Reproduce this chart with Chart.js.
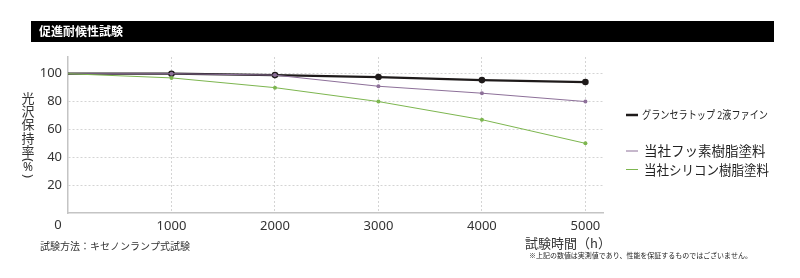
<!DOCTYPE html>
<html>
<head>
<meta charset="utf-8">
<script src="https://cdn.jsdelivr.net/npm/chart.js@4"></script>
<style>
html,body{margin:0;padding:0;background:#fff;}
#wrap{position:relative;width:800px;height:278px;}
</style>
</head>
<body>
<div id="wrap"><canvas id="c" width="800" height="278"></canvas></div>
<script>
const chartTitle = '促進耐候性試験';
const hours = [0, 1000, 2000, 3000, 4000, 5000];
const xTickValues = [1000, 2000, 3000, 4000, 5000];
const yTickValues = [20, 40, 60, 80, 100];
const seriesNames = ['グランセラトップ 2液ファイン', '当社フッ素樹脂塗料', '当社シリコン樹脂塗料'];
const granCera = [100, 100, 99, 97.6, 95.4, 94];
const fluoro = [100, 100, 99, 91, 86, 80];
const silicone = [100, 97, 90, 80, 67, 50];
const yTitle = ['光', '沢', '保', '持', '率', '(', '%', ')'];
const xTitle = '試験時間（h）';
const methodNote = '試験方法：キセノンランプ式試験';
const disclaimer = '※上記の数値は実測値であり、性能を保証するものではございません。';

const colors = ['#1e1a1a', '#8d7099', '#7db64f'];
const FONT = "'Noto Sans', 'Noto Sans CJK JP', sans-serif";
const JFONT = "'Noto Sans CJK JP', 'Noto Sans', sans-serif";

function toPts(arr){ return hours.map((h,i)=>({x:h, y:arr[i]})); }

const extras = {
  id: 'extras',
  beforeDraw(chart){
    const ctx = chart.ctx;
    ctx.save();
    ctx.fillStyle = '#fff';
    ctx.fillRect(0,0,chart.width,chart.height);
    ctx.restore();
  },
  afterDraw(chart){
    const ctx = chart.ctx;
    const xs = chart.scales.x;
    ctx.save();
    // title bar
    ctx.fillStyle = '#000';
    ctx.fillRect(31, 21, 743, 21);
    ctx.fillStyle = '#fff';
    ctx.font = 'bold 12px ' + JFONT;
    ctx.textBaseline = 'middle';
    ctx.textAlign = 'left';
    ctx.fillText(chartTitle, 39, 31.5);

    // origin label
    ctx.fillStyle = '#333';
    ctx.font = '13px ' + FONT;
    ctx.textAlign = 'center';
    ctx.fillText('0', xs.getPixelForValue(0) - 10, 225);

    // y title vertical (parentheses turned for vertical writing)
    ctx.font = '13px ' + JFONT;
    ctx.fillStyle = '#333';
    const ypos = [98, 111, 124.5, 138, 151, 160, 167.5, 176];
    yTitle.forEach((ch,i)=>{
      if (ch === '(' || ch === ')') {
        ctx.save();
        ctx.translate(28, ypos[i]);
        ctx.rotate(Math.PI/2);
        ctx.font = '13px ' + FONT;
        ctx.fillText(ch, 0, 0);
        ctx.restore();
      } else {
        ctx.font = (ch === '%' ? '12px ' + FONT : '13px ' + JFONT);
        ctx.fillText(ch, 28, ypos[i]);
      }
    });

    // x title
    ctx.font = '13px ' + JFONT;
    ctx.textAlign = 'left';
    ctx.fillText(xTitle, 525, 243);

    // method note
    ctx.font = '10px ' + JFONT;
    ctx.fillStyle = '#333';
    ctx.fillText(methodNote, 40, 246, 150);

    // disclaimer
    ctx.font = '7px ' + JFONT;
    ctx.fillStyle = '#222';
    ctx.fillText(disclaimer, 529, 255, 223);

    // legend
    const leg = [
      {y:115, w:2.5, font:'11px ' + JFONT, max:126, tx:642},
      {y:151, w:1, font:'13.5px ' + JFONT, max:123, tx:644},
      {y:169.5, w:1, font:'13.5px ' + JFONT, max:125, tx:644}
    ];
    leg.forEach((l,i)=>{
      ctx.strokeStyle = colors[i];
      ctx.lineWidth = l.w;
      ctx.beginPath(); ctx.moveTo(626, l.y); ctx.lineTo(638, l.y); ctx.stroke();
      ctx.fillStyle = '#222';
      ctx.font = l.font;
      ctx.fillText(seriesNames[i], l.tx, l.y, l.max);
    });
    ctx.restore();
  }
};

new Chart(document.getElementById('c'), {
  type: 'line',
  data: {
    datasets: [
      {label: seriesNames[2], data: toPts(silicone), borderColor: colors[2], backgroundColor: colors[2], borderWidth: 1, pointRadius: [0,2,2,2,2,2], pointBorderWidth: 0, tension: 0},
      {label: seriesNames[1], data: toPts(fluoro), borderColor: colors[1], backgroundColor: colors[1], borderWidth: 1, pointRadius: [0,2,2,2,2,2], pointBorderWidth: 0, tension: 0},
      {label: seriesNames[0], data: toPts(granCera), borderColor: colors[0], backgroundColor: colors[0], borderWidth: 2.2, pointRadius: [0,3.3,3.3,3.3,3.3,3.3], pointBorderWidth: 0, tension: 0}
    ]
  },
  options: {
    responsive: false,
    animation: false,
    layout: {padding: {left: 0, top: 57, right: 197, bottom: 0}},
    plugins: {legend: {display: false}, tooltip: {enabled: false}},
    scales: {
      x: {
        type: 'linear', min: 0, max: 5170,
        afterBuildTicks(s){ s.ticks = xTickValues.map(v=>({value:v})); },
        afterFit(s){ s.height = 65; },
        grid: {color: '#d4d4d4', lineWidth: 1, drawTicks: false},
        border: {display: true, color: '#c4c4c4', width: 1.5, dash: [2,2]},
        ticks: {color: '#333', font: {family: FONT, size: 13}, padding: 5, maxRotation: 0,
          callback: (v)=>String(v)}
      },
      y: {
        min: 0, max: 112,
        afterBuildTicks(s){ s.ticks = yTickValues.map(v=>({value:v})); },
        afterFit(s){ s.width = 68; },
        grid: {color: '#d4d4d4', lineWidth: 1, drawTicks: false},
        border: {display: true, color: '#c4c4c4', width: 1.5, dash: [2,2]},
        ticks: {color: '#333', font: {family: FONT, size: 13}, padding: 6,
          callback: (v)=>String(v)}
      }
    }
  },
  plugins: [extras]
});
</script>
</body>
</html>
